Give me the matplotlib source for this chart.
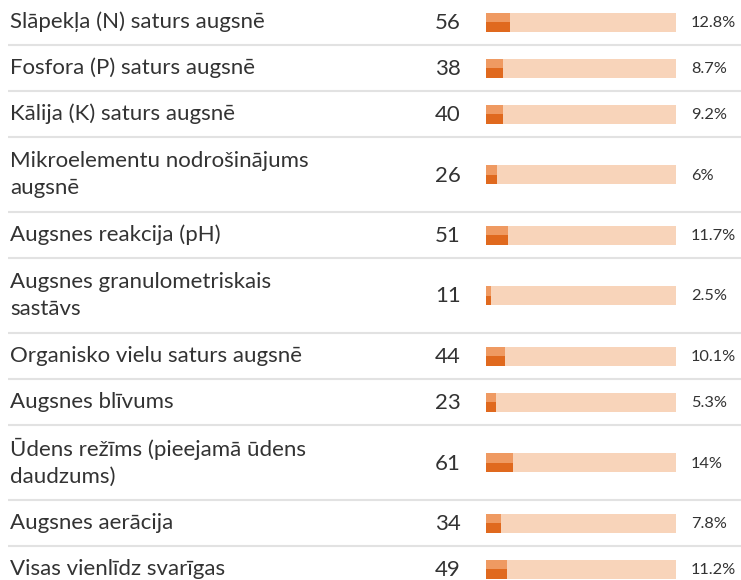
import matplotlib.pyplot as plt

labels = [
    "Slāpekļa (N) saturs augsnē",
    "Fosfora (P) saturs augsnē",
    "Kālija (K) saturs augsnē",
    "Mikroelementu nodrošinājums\naugsnē",
    "Augsnes reakcija (pH)",
    "Augsnes granulometriskais\nsastāvs",
    "Organisko vielu saturs augsnē",
    "Augsnes blīvums",
    "Ūdens režīms (pieejamā ūdens\ndaudzums)",
    "Augsnes aerācija",
    "Visas vienlīdz svarīgas",
]
counts = [56, 38, 40, 26, 51, 11, 44, 23, 61, 34, 49]
percents = [12.8, 8.7, 9.2, 6, 11.7, 2.5, 10.1, 5.3, 14, 7.8, 11.2]

plt.rcParams['font.family'] = ['Lato', 'DejaVu Sans']

W, H = 741, 580
fig = plt.figure(figsize=(W / 100, H / 100), dpi=100)
ax = fig.add_axes([0, 0, 1, 1])
ax.set_xlim(0, W)
ax.set_ylim(H, 0)
ax.axis('off')

text_c = '#333333'
bar_bg = '#f8d4ba'
fill_top = '#ef9a62'
fill_bot = '#e0691e'
bar_x0, bar_w, bar_h = 486, 190, 19

# row layout: one-line rows 46 px, two-line rows 75 px
top = -1
for lab, n, p in zip(labels, counts, percents):
    nl = lab.count('\n') + 1
    rh = 46 if nl == 1 else 75
    yc = top + rh / 2
    ax.text(10, yc, lab, fontsize=16, color=text_c, va='center', ha='left',
            linespacing=1.45)
    ax.text(461, yc + 1, str(n), fontsize=16, color=text_c, va='center', ha='right')
    ax.barh(yc, bar_w, left=bar_x0, height=bar_h, color=bar_bg)
    fw = bar_w * p / 100
    ax.barh(yc - bar_h / 4, fw, left=bar_x0, height=bar_h / 2, color=fill_top)
    ax.barh(yc + bar_h / 4, fw, left=bar_x0, height=bar_h / 2, color=fill_bot)
    ax.text(691, yc + 1, f"{p:g}%", fontsize=11.8, color=text_c, va='center', ha='left')
    top += rh
    ax.plot([8, W], [top, top], color='#e2e2e2', lw=1.5, solid_capstyle='butt')

fig.savefig('out.png', dpi=100)
